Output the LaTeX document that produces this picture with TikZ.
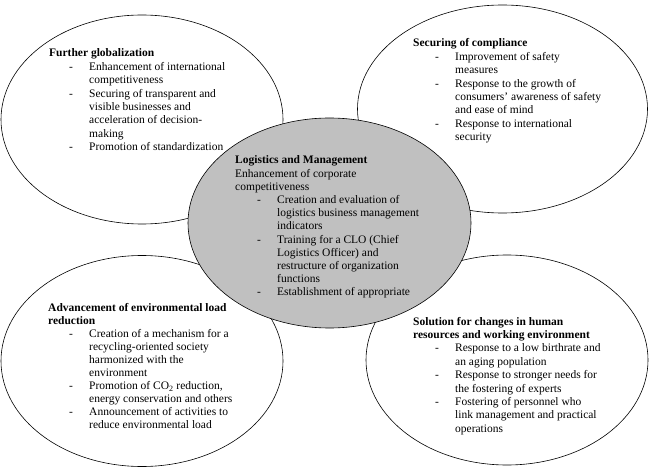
\documentclass[tikz,border=0pt]{standalone}
\usepackage{fontspec}
\setmainfont{Liberation Serif}
\usetikzlibrary{shapes.geometric}
\definecolor{corefill}{HTML}{C0C0C0}
\newlength\dashx
\newlength\textx
\newcommand{\itm}{\hspace*{\dashx}\makebox[\dimexpr\textx-\dashx\relax][l]{-}}
\newcommand{\cnt}{\hspace*{\textx}}
\newcommand{\btext}[4][13.4]{\parbox[t]{260pt}{\fontsize{11.5}{#1}\selectfont\setlength\dashx{#2}\setlength\textx{#3}\raggedright #4}}
\tikzset{
  bubble/.style={ellipse, draw=black, line width=0.6pt, fill=white, inner sep=0pt},
  core/.style={bubble, fill=corefill},
  txt/.style={anchor=base west, inner sep=0pt}
}
\begin{document}
\begin{tikzpicture}[x=1pt, y=-1pt]
\useasboundingbox (0,0) rectangle (650,470);
% outer bubbles
\node[bubble, minimum width=282pt, minimum height=209pt] (tl) at (142,119.5) {};
\node[bubble, minimum width=290pt, minimum height=208pt] (tr) at (502.5,109) {};
\node[bubble, minimum width=282pt, minimum height=211pt] (bl) at (142,361) {};
\node[bubble, minimum width=282pt, minimum height=210pt] (br) at (507,360) {};
% central bubble
\node[core, minimum width=283pt, minimum height=210pt] (c) at (329.5,223) {};
% texts
\node[txt] (tltext) at (49,57) {\btext{20pt}{40pt}{%
\textbf{Further globalization}\\
\itm Enhancement of international\\
\cnt competitiveness\\
\itm Securing of transparent and\\
\cnt visible businesses and\\
\cnt acceleration of decision-\\
\cnt making\\
\itm Promotion of standardization}};
\node[txt] (trtext) at (413,47) {\btext{22pt}{42pt}{%
\textbf{Securing of compliance}\\
\itm Improvement of safety\\
\cnt measures\\
\itm Response to the growth of\\
\cnt consumers’ awareness of safety\\
\cnt and ease of mind\\
\itm Response to international\\
\cnt security}};
\node[txt] (ctext) at (235,164) {\btext[13.2]{22pt}{42pt}{%
\textbf{Logistics and Management}\\
Enhancement of corporate\\
competitiveness\\
\itm Creation and evaluation of\\
\cnt logistics business management\\
\cnt indicators\\
\itm Training for a CLO (Chief\\
\cnt Logistics Officer) and\\
\cnt restructure of organization\\
\cnt functions\\
\itm Establishment of appropriate}};
\node[txt] (bltext) at (48,311) {\btext[13.1]{21pt}{41pt}{%
\textbf{Advancement of environmental load}\\
\textbf{reduction}\\
\itm Creation of a mechanism for a\\
\cnt recycling-oriented society\\
\cnt harmonized with the\\
\cnt environment\\
\itm Promotion of CO\textsubscript{2} reduction,\\
\cnt energy conservation and others\\
\itm Announcement of activities to\\
\cnt reduce environmental load}};
\node[txt] (brtext) at (413,325) {\btext{22pt}{42pt}{%
\textbf{Solution for changes in human}\\
\textbf{resources and working environment}\\
\itm Response to a low birthrate and\\
\cnt an aging population\\
\itm Response to stronger needs for\\
\cnt the fostering of experts\\
\itm Fostering of personnel who\\
\cnt link management and practical\\
\cnt operations}};
\end{tikzpicture}
\end{document}
